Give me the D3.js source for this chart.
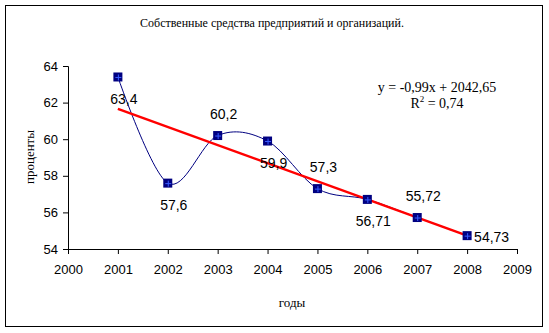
<!DOCTYPE html>
<html><head><meta charset="utf-8">
<script src="https://cdn.jsdelivr.net/npm/d3@7"></script>
<style>body{margin:0;background:#fff}svg{display:block}</style>
</head><body>
<svg id="c" width="549" height="333"></svg>
<script>
const years = [2001, 2002, 2003, 2004, 2005, 2006, 2007, 2008];
const values = [63.4, 57.6, 60.2, 59.9, 57.3, 56.71, 55.72, 54.73];
const valueLabels = ["63,4", "57,6", "60,2", "59,9", "57,3", "56,71", "55,72", "54,73"];
const labelPlacement = ["below", "below", "above", "below", "above", "below", "above", "right"];
const xTicks = [2000, 2001, 2002, 2003, 2004, 2005, 2006, 2007, 2008, 2009];
const yTicks = [54, 56, 58, 60, 62, 64];
const trendSlope = -0.99, trendIntercept = 2042.65;
const title = "Собственные средства предприятий и организаций.";
const xTitle = "годы", yTitle = "проценты";
const eqText = "y = -0,99x + 2042,65";

const svg = d3.select("#c");
const serif = "'Liberation Serif','Times New Roman',serif";
const sans = "'Liberation Sans',Arial,sans-serif";

svg.append("rect").attr("x", 5.5).attr("y", 5.5).attr("width", 537).attr("height", 321)
  .attr("fill", "#fff").attr("stroke", "#000").attr("stroke-width", 1);

const x = d3.scaleLinear().domain([2000, 2009]).range([68, 517]);
const y = d3.scaleLinear().domain([54, 64]).range([249, 66]);

const yAxis = d3.axisLeft(y).tickValues(yTicks).tickSize(5).tickPadding(5).tickFormat(d3.format("d"));
const gy = svg.append("g").attr("transform", "translate(68,0)").call(yAxis);
const xAxis = d3.axisBottom(x).tickValues(xTicks).tickSize(5).tickPadding(11).tickFormat(d3.format("d"));
const gx = svg.append("g").attr("transform", "translate(0,249)").call(xAxis);
[gx, gy].forEach(g => {
  g.select(".domain").attr("stroke", "#000").attr("stroke-width", 1);
  g.selectAll(".tick line").attr("stroke", "#000");
  g.selectAll("text").attr("font-family", sans).attr("font-size", 13).attr("fill", "#000");
});

// smoothed data line
const line = d3.line().x((d, i) => x(years[i])).y(d => y(d)).curve(d3.curveCardinal.tension(0));
svg.append("path").attr("d", line(values)).attr("fill", "none").attr("stroke", "#000080").attr("stroke-width", 1);

// trend line
const tx = [years[0], years[years.length - 1]];
svg.append("line")
  .attr("x1", x(tx[0])).attr("y1", y(trendSlope * tx[0] + trendIntercept))
  .attr("x2", x(tx[1])).attr("y2", y(trendSlope * tx[1] + trendIntercept))
  .attr("stroke", "#ff0000").attr("stroke-width", 2.5);

// markers
const m = svg.append("g").selectAll("g").data(values).join("g")
  .attr("transform", (d, i) => `translate(${x(years[i])},${y(d)})`);
m.append("rect").attr("x", -4.5).attr("y", -4.5).attr("width", 9).attr("height", 9).attr("fill", "#000080");
m.append("path").attr("d", "M-2.5,0.5H3.5M0.5,-2.5V3.5").attr("stroke", "#3a5cff").attr("stroke-width", 1);

// labels
svg.append("g").selectAll("text").data(values).join("text")
  .attr("font-family", sans).attr("font-size", 14).attr("fill", "#000")
  .attr("text-anchor", (d, i) => labelPlacement[i] === "right" ? "start" : "middle")
  .attr("x", (d, i) => x(years[i]) + (labelPlacement[i] === "right" ? 7 : 6))
  .attr("y", (d, i) => y(d) + (labelPlacement[i] === "above" ? -17 : labelPlacement[i] === "below" ? 27 : 6))
  .text((d, i) => valueLabels[i]);

// titles
svg.append("text").attr("x", 272).attr("y", 27).attr("text-anchor", "middle")
  .attr("font-family", serif).attr("font-size", 12).text(title);
svg.append("text").attr("x", 292).attr("y", 307).attr("text-anchor", "middle")
  .attr("font-family", serif).attr("font-size", 13).text(xTitle);
svg.append("text").attr("transform", "translate(34,157) rotate(-90)").attr("text-anchor", "middle")
  .attr("font-family", serif).attr("font-size", 13).text(yTitle);

// equation
const eq = svg.append("g").attr("font-family", serif).attr("font-size", 14).attr("text-anchor", "middle");
eq.append("text").attr("x", 437).attr("y", 92).text(eqText);
const r = eq.append("text").attr("x", 437).attr("y", 108);
r.append("tspan").text("R");
r.append("tspan").attr("dy", -6).attr("font-size", 9).text("2");
r.append("tspan").attr("dy", 6).text(" = 0,74");
</script>
</body></html>
